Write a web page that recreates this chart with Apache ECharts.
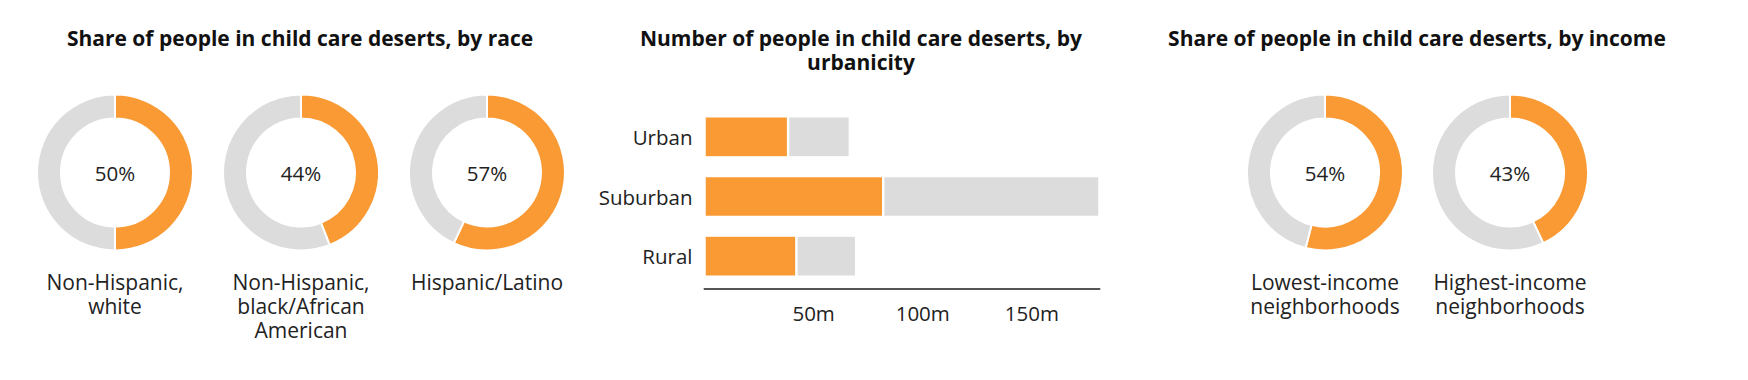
<!DOCTYPE html>
<html>
<head>
<meta charset="utf-8">
<script src="https://cdn.jsdelivr.net/npm/echarts@6/dist/echarts.min.js"></script>
<style>
  html, body { margin: 0; padding: 0; background: #fff; }
  #chart { width: 1748px; height: 380px; }
</style>
</head>
<body>
<div id="chart"></div>
<script>
// ---- Data ----
const raceCategories = ['Non-Hispanic,\nwhite', 'Non-Hispanic,\nblack/African\nAmerican', 'Hispanic/Latino'];
const raceShares = [50, 44, 57];
const incomeCategories = ['Lowest-income\nneighborhoods', 'Highest-income\nneighborhoods'];
const incomeShares = [54, 43];
const urbanicity = ['Urban', 'Suburban', 'Rural'];
const inDeserts = [38.3, 81.9, 42.1];       // millions of people in child care deserts
const notInDeserts = [28.3, 99.1, 27.4];    // remaining people (millions)
const xTickLabels = { 50: '50m', 100: '100m', 150: '150m' };
const titles = [
  'Share of people in child care deserts, by race',
  'Number of people in child care deserts, by\nurbanicity',
  'Share of people in child care deserts, by income'
];

// ---- Layout ----
const FONT = '"Open Sans", "Noto Sans", sans-serif';
const ORANGE = '#fa9a35';
const GREY = '#dcdcdc';
const raceX = [115, 301, 487];
const incomeX = [1325, 1510];
const donutY = 172.5;

const chart = echarts.init(document.getElementById('chart'), null, { renderer: 'svg' });

function donut(x, share) {
  return {
    type: 'pie',
    center: [x, donutY],
    radius: [54, 78],
    startAngle: 90,
    clockwise: true,
    silent: true,
    animation: false,
    labelLine: { show: false },
    itemStyle: { borderColor: '#fff', borderWidth: 2 },
    data: [
      { value: share, itemStyle: { color: ORANGE },
        label: { show: true, position: 'center', formatter: '{c}%',
                 fontFamily: FONT, fontSize: 20.5, color: '#222' } },
      { value: 100 - share, itemStyle: { color: GREY }, label: { show: false } }
    ]
  };
}

const graphics = [];
function addText(x, y, text, font, lineHeight, color) {
  graphics.push({
    type: 'text', x: x, y: y, silent: true,
    style: { text: text, font: font, fill: color, align: 'center', verticalAlign: 'top', lineHeight: lineHeight }
  });
}
const titleFont = 'bold 21px ' + FONT;
addText(300, 26.5, titles[0], titleFont, 23.5, '#111');
addText(861, 26.5, titles[1], titleFont, 23.5, '#111');
addText(1417, 26.5, titles[2], titleFont, 23.5, '#111');
raceCategories.forEach((c, i) => addText(raceX[i], 269.5, c, '21px ' + FONT, 24, '#222'));
incomeCategories.forEach((c, i) => addText(incomeX[i], 269.5, c, '21px ' + FONT, 24, '#222'));

const series = [];
raceShares.forEach((s, i) => series.push(donut(raceX[i], s)));
incomeShares.forEach((s, i) => series.push(donut(incomeX[i], s)));
series.push({
  type: 'bar', stack: 'total', data: inDeserts, barWidth: 41, silent: true, animation: false,
  itemStyle: { color: ORANGE, borderColor: '#fff', borderWidth: 1.2 }
});
series.push({
  type: 'bar', stack: 'total', data: notInDeserts, barWidth: 41, silent: true, animation: false,
  itemStyle: { color: GREY, borderColor: '#fff', borderWidth: 1.2 }
});

chart.setOption({
  animation: false,
  backgroundColor: '#fff',
  grid: { left: 704.5, top: 107, width: 395, height: 179, containLabel: false },
  xAxis: {
    type: 'value', min: 0, max: 181, interval: 50, offset: 3,
    axisLine: { show: true, lineStyle: { color: '#555', width: 2 } },
    axisTick: { show: false },
    splitLine: { show: false },
    axisLabel: {
      margin: 13, fontFamily: FONT, fontSize: 20.5, color: '#222',
      formatter: v => xTickLabels[v] || '',
      showMaxLabel: false
    }
  },
  yAxis: {
    type: 'category', data: urbanicity, inverse: true,
    axisLine: { show: false }, axisTick: { show: false }, splitLine: { show: false },
    axisLabel: { margin: 12, fontFamily: FONT, fontSize: 20.5, color: '#222' }
  },
  graphic: graphics,
  series: series
});
</script>
</body>
</html>
